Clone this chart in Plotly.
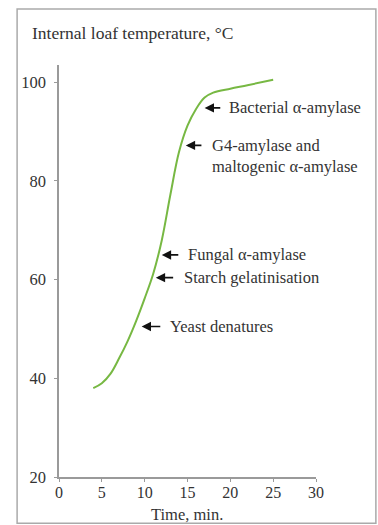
import plotly.graph_objects as go

# Data
time_min = [4, 5, 6, 7, 8, 9, 10, 11, 12, 13, 14, 15, 16, 17, 18, 20, 22, 25]
temp_c = [38.0, 39.0, 40.9, 44.0, 47.5, 51.6, 56.2, 61.2, 68.0, 77.2, 85.8, 91.2,
          94.6, 96.9, 97.9, 98.7, 99.4, 100.5]

labels = ["Bacterial α-amylase", "G4-amylase and<br>maltogenic α-amylase",
          "Fungal α-amylase", "Starch gelatinisation", "Yeast denatures"]
label_tip_x = [17.0, 14.8, 12.0, 11.3, 9.65]
label_tail_x = [19.0, 16.8, 14.1, 13.5, 12.0]
label_text_x = [19.6, 17.6, 14.8, 14.4, 12.7]
label_y = [94.8, 87.2, 65.0, 60.4, 50.5]

x_ticks = [0, 5, 10, 15, 20, 25, 30]
y_ticks = [20, 40, 60, 80, 100]

FONT = "Liberation Serif"
TXT = "#333333"
AX = "#9a9a9a"

fig = go.Figure()
fig.add_trace(go.Scatter(x=time_min, y=temp_c, mode="lines",
                         line=dict(color="#77b843", width=2, shape="spline", smoothing=1.0),
                         hoverinfo="skip"))

for lab, tx, tl, txt_x, ty in zip(labels, label_tip_x, label_tail_x, label_text_x, label_y):
    fig.add_annotation(x=tx, y=ty, ax=tl, ay=ty, xref="x", yref="y",
                       axref="x", ayref="y", text="", showarrow=True,
                       arrowhead=2, arrowsize=1.1, arrowwidth=1.7, arrowcolor="#111111")
    two = "<br>" in lab
    fig.add_annotation(x=txt_x, y=ty, xref="x", yref="y",
                       text=lab, showarrow=False, xanchor="left", yanchor="middle",
                       yshift=-11 if two else 0, align="left",
                       font=dict(family=FONT, size=16.5, color=TXT))

fig.add_annotation(x=-0.113, y=1.078, xref="paper", yref="paper", text="Internal loaf temperature, °C",
                   showarrow=False, xanchor="left", yanchor="middle",
                   font=dict(family=FONT, size=17.5, color=TXT))
fig.add_annotation(x=0.498, y=-0.09, xref="paper", yref="paper", text="Time, min.",
                   showarrow=False, xanchor="center", yanchor="middle",
                   font=dict(family=FONT, size=16.5, color=TXT))

fig.add_shape(type="rect", xref="paper", yref="paper", x0=-0.163, x1=1.233, y0=-0.112, y1=1.136,
              line=dict(color="#aaaaaa", width=1.5), fillcolor="rgba(0,0,0,0)")

fig.update_xaxes(range=[0, 30], tickvals=x_ticks, showgrid=False, zeroline=False,
                 showline=True, linecolor=AX, linewidth=1.5, ticks="outside", ticklen=3,
                 tickcolor=AX, ticklabelstandoff=-3,
                 tickfont=dict(family=FONT, size=16, color=TXT))
fig.update_yaxes(range=[20, 103.5], tickvals=y_ticks, showgrid=False, zeroline=False,
                 showline=True, linecolor=AX, linewidth=1.5, ticks="outside", ticklen=3,
                 tickcolor=AX, ticklabelstandoff=5,
                 tickfont=dict(family=FONT, size=16.5, color=TXT))

fig.update_layout(width=378, height=525, margin=dict(l=59, r=62, t=65, b=48),
                  plot_bgcolor="white", paper_bgcolor="white", showlegend=False)

fig.write_html("out.html")
